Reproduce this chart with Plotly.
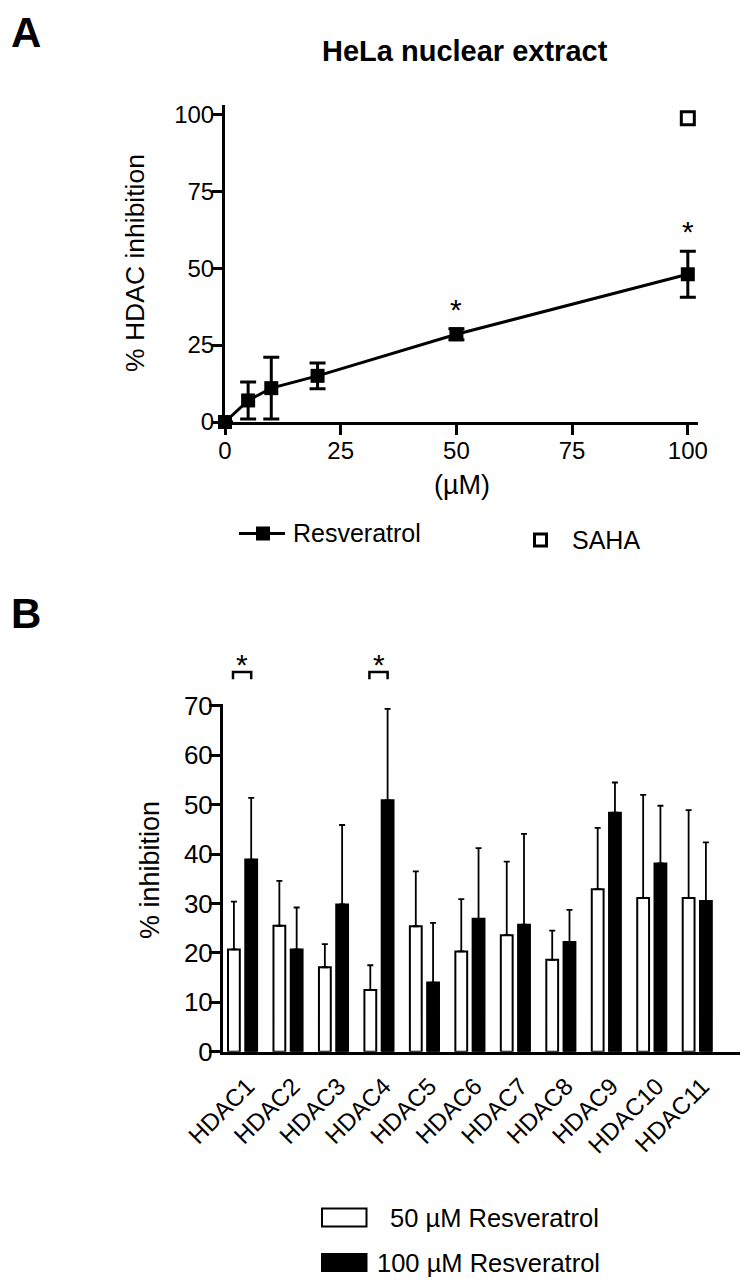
import plotly.graph_objects as go

# ---------------- Data ----------------
# Panel A
conc_uM = [0, 5, 10, 20, 50, 100]
resveratrol_inh = [0, 7.0, 11.0, 15.0, 28.5, 48.0]
resveratrol_err = [0, 6.0, 10.0, 4.2, 1.8, 7.5]
saha_conc = [100]
saha_inh = [98.7]
sig_A_conc = [50, 100]
sig_A_y = [36.7, 62.0]

# Panel B
hdacs = ["HDAC1", "HDAC2", "HDAC3", "HDAC4", "HDAC5", "HDAC6",
         "HDAC7", "HDAC8", "HDAC9", "HDAC10", "HDAC11"]
inh_50 = [20.7, 25.5, 17.1, 12.5, 25.4, 20.3, 23.6, 18.6, 32.9, 31.1, 31.1]
err_50 = [9.7, 9.1, 4.7, 5.0, 11.1, 10.6, 14.9, 5.9, 12.4, 20.9, 17.8]
inh_100 = [38.9, 20.7, 29.8, 50.9, 14.0, 26.9, 25.7, 22.2, 48.4, 38.1, 30.5]
err_100 = [12.5, 8.5, 16.1, 18.5, 12.1, 14.3, 18.4, 6.5, 6.1, 11.7, 11.9]
sig_B_idx = [0, 3]

# ---------------- Layout helpers ----------------
# The page body has an 8 px margin, so the figure is drawn 8 px smaller and
# all target pixel positions are shifted by that offset.
OFF = 8
W, H = 752 - OFF, 1285 - OFF
FONT = "Arial, Liberation Sans, sans-serif"


def px(x):
    return (x - OFF) / W


def py(y):
    return 1 - (y - OFF) / H


A_XDOM = [px(225), px(698)]
A_YDOM = [py(422), py(105)]
A_XRANGE = [0, 102.2]
A_YRANGE = [0, 103]

B_XDOM = [px(223), px(740)]
B_YDOM = [py(1051.7), py(703.5)]
B_XRANGE = [-0.43, 10.94]
B_YRANGE = [0, 70.5]


def b_paper_y(v):
    return B_YDOM[0] + (v - B_YRANGE[0]) / (B_YRANGE[1] - B_YRANGE[0]) * (B_YDOM[1] - B_YDOM[0])


fig = go.Figure()

# Panel A traces
fig.add_trace(go.Scatter(
    x=conc_uM, y=resveratrol_inh, mode="lines+markers",
    line=dict(color="black", width=3),
    marker=dict(symbol="square", size=14, color="black"),
    error_y=dict(type="data", array=resveratrol_err, color="black", thickness=3, width=8),
    cliponaxis=False, showlegend=False, xaxis="x", yaxis="y"))
fig.add_trace(go.Scatter(
    x=saha_conc, y=saha_inh, mode="markers",
    marker=dict(symbol="square-open", size=13, color="black", line=dict(width=3, color="black")),
    cliponaxis=False, showlegend=False, xaxis="x", yaxis="y"))

# Panel B traces
idx = list(range(len(hdacs)))
fig.add_trace(go.Bar(
    x=idx, y=inh_50, width=0.26, offset=-0.32,
    marker=dict(color="white", line=dict(color="black", width=2)),
    error_y=dict(type="data", array=err_50, arrayminus=[0] * len(err_50), symmetric=False,
                 color="black", thickness=1.8, width=3),
    showlegend=False, xaxis="x2", yaxis="y2"))
fig.add_trace(go.Bar(
    x=idx, y=inh_100, width=0.26, offset=0.06,
    marker=dict(color="black", line=dict(color="black", width=2)),
    error_y=dict(type="data", array=err_100, arrayminus=[0] * len(err_100), symmetric=False,
                 color="black", thickness=1.8, width=3),
    showlegend=False, xaxis="x2", yaxis="y2"))


def axis_style(size, ticklen, standoff):
    return dict(showline=True, linewidth=3, linecolor="black", ticks="outside",
                ticklen=ticklen, tickwidth=3, tickcolor="black", showgrid=False,
                zeroline=False, automargin=False, ticklabelstandoff=standoff,
                tickfont=dict(family=FONT, size=size, color="black"))


shapes = []
annotations = []

# Significance brackets panel B
for i in sig_B_idx:
    x0, x1 = i - 0.21, i + 0.19
    ytop, yleg = b_paper_y(76.9), b_paper_y(75.4)
    shapes.append(dict(type="path", xref="x2", yref="paper",
                       path=f"M {x0} {yleg} L {x0} {ytop} L {x1} {ytop} L {x1} {yleg}",
                       line=dict(color="black", width=2.5)))
    annotations.append(dict(x=i - 0.01, y=b_paper_y(78.3), xref="x2", yref="paper", text="*",
                            showarrow=False, font=dict(family=FONT, size=30, color="black"),
                            xanchor="center", yanchor="middle"))

# asterisks panel A
for xc, yc in zip(sig_A_conc, sig_A_y):
    annotations.append(dict(x=xc, y=yc, xref="x", yref="y", text="*", showarrow=False,
                            font=dict(family=FONT, size=30, color="black"),
                            xanchor="center", yanchor="middle"))


def txt(x, y, t, size=25, bold=False, angle=0, xanchor="center", yanchor="middle"):
    annotations.append(dict(x=px(x), y=py(y), xref="paper", yref="paper",
                            text=f"<b>{t}</b>" if bold else t, showarrow=False, textangle=angle,
                            font=dict(family=FONT, size=size, color="black"),
                            xanchor=xanchor, yanchor=yanchor, borderpad=0))


txt(26, OFF, "A", size=42, bold=True, yanchor="top")
txt(26, 614, "B", size=42, bold=True)
txt(465, 51, "HeLa nuclear extract", size=29, bold=True)
txt(135, 263, "% HDAC inhibition", size=26.5, angle=-90)
txt(462, 485, "(µM)", size=27)
txt(150, 870, "% inhibition", size=27, angle=-90)

# Legend A (manual)
shapes.append(dict(type="line", xref="paper", yref="paper", x0=px(239), x1=px(285),
                   y0=py(533.5), y1=py(533.5), line=dict(color="black", width=3)))
shapes.append(dict(type="rect", xref="paper", yref="paper", x0=px(256), x1=px(270),
                   y0=py(540.5), y1=py(526.5), fillcolor="black", line=dict(color="black", width=0)))
shapes.append(dict(type="rect", xref="paper", yref="paper", x0=px(534.5), x1=px(546.5),
                   y0=py(546), y1=py(534), fillcolor="white", line=dict(color="black", width=3)))
txt(292, 533, "Resveratrol", size=25, xanchor="left")
txt(571, 540, "SAHA", size=25, xanchor="left")

# Legend B (manual)
shapes.append(dict(type="rect", xref="paper", yref="paper", x0=px(322), x1=px(366.5),
                   y0=py(1226.5), y1=py(1208.5), fillcolor="white", line=dict(color="black", width=2)))
shapes.append(dict(type="rect", xref="paper", yref="paper", x0=px(321), x1=px(367.5),
                   y0=py(1272), y1=py(1253), fillcolor="black", line=dict(color="black", width=0)))
txt(389, 1218, "50 µM Resveratrol", size=25.5, xanchor="left")
txt(376, 1263, "100 µM Resveratrol", size=25.5, xanchor="left")

fig.update_layout(
    width=W, height=H,
    margin=dict(l=0, r=0, t=0, b=0, pad=0, autoexpand=False),
    paper_bgcolor="white", plot_bgcolor="white",
    font=dict(family=FONT, color="black"),
    barmode="overlay",
    xaxis=dict(domain=A_XDOM, range=A_XRANGE, anchor="y",
               tickvals=[0, 25, 50, 75, 100], **axis_style(24, 10, -5)),
    yaxis=dict(domain=A_YDOM, range=A_YRANGE, anchor="x",
               tickvals=[0, 25, 50, 75, 100], **axis_style(24, 10, -7)),
    xaxis2=dict(domain=B_XDOM, range=B_XRANGE, anchor="y2",
                tickvals=idx, ticktext=hdacs, tickangle=-45,
                showline=True, linewidth=3, linecolor="black", ticks="",
                showgrid=False, zeroline=False, automargin=False,
                ticklabelshift=5, ticklabelstandoff=8,
                tickfont=dict(family=FONT, size=24, color="black")),
    yaxis2=dict(domain=B_YDOM, range=B_YRANGE, anchor="x2",
                tickvals=[0, 10, 20, 30, 40, 50, 60, 70], **axis_style(26, 11, -9)),
    shapes=shapes,
    annotations=annotations,
)

fig.write_html("out.html")
